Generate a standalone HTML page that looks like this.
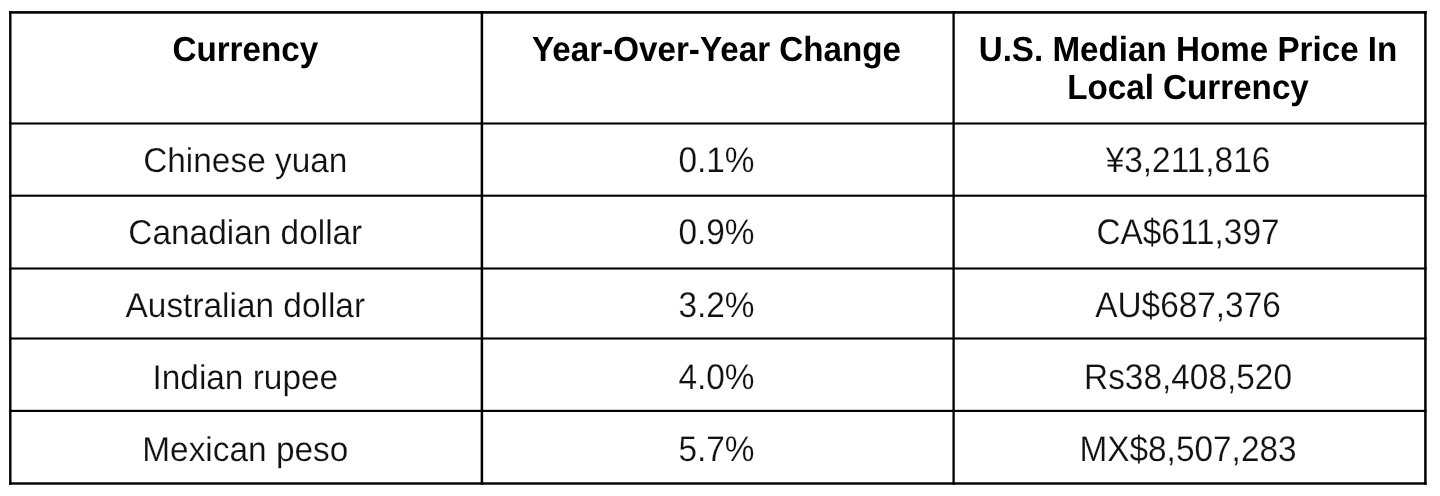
<!DOCTYPE html>
<html><head><meta charset="utf-8"><title>Currency table</title>
<style>
html,body{margin:0;padding:0;background:#fff;width:1440px;height:496px;overflow:hidden}
body{filter:grayscale(1)}
.t{position:absolute;white-space:nowrap;text-align:center;width:460px;font-family:"Liberation Sans",Arial,sans-serif;line-height:38px;text-rendering:geometricPrecision}
.b{font-weight:bold;font-size:33.2px;color:#000}
.r{font-size:33.4px;color:#111;-webkit-text-stroke:0.2px #fff}
.b{transform:scaleY(1.05);transform-origin:0 29px}
.r{transform-origin:0 29px}
.c0{transform:scaleY(1.03)}
.c1{transform:scaleY(1.07)}
.c2{transform:scaleY(1.07)}
svg{position:absolute;left:0;top:0}
</style></head><body>
<svg width="1440" height="496" viewBox="0 0 1440 496">
<rect x="9.10" y="11.10" width="1417.55" height="2.6" fill="#000"/>
<rect x="9.10" y="122.45" width="1417.55" height="2.1" fill="#000"/>
<rect x="9.10" y="194.65" width="1417.55" height="2.1" fill="#000"/>
<rect x="9.10" y="267.45" width="1417.55" height="2.1" fill="#000"/>
<rect x="9.10" y="337.45" width="1417.55" height="2.1" fill="#000"/>
<rect x="9.10" y="409.80" width="1417.55" height="2.2" fill="#000"/>
<rect x="9.10" y="482.30" width="1417.55" height="2.4" fill="#000"/>
<rect x="9.10" y="11.10" width="2.4" height="473.60" fill="#000"/>
<rect x="480.65" y="11.10" width="2.5" height="473.60" fill="#000"/>
<rect x="952.45" y="11.10" width="2.3" height="473.60" fill="#000"/>
<rect x="1424.15" y="11.10" width="2.5" height="473.60" fill="#000"/>
</svg>
<div class="t b" style="left:15.30px;top:32px">Currency</div>
<div class="t b" style="left:486.50px;top:32px">Year-Over-Year Change</div>
<div class="t b" style="left:958.00px;top:32px">U.S. Median Home Price In</div>
<div class="t b" style="left:958.00px;top:70px">Local Currency</div>
<div class="t r c0" style="left:15.30px;top:143px">Chinese yuan</div>
<div class="t r c1" style="left:486.50px;top:143px">0.1%</div>
<div class="t r c2" style="left:958.00px;top:143px">¥3,211,816</div>
<div class="t r c0" style="left:15.30px;top:215px">Canadian dollar</div>
<div class="t r c1" style="left:486.50px;top:215px">0.9%</div>
<div class="t r c2" style="left:958.00px;top:215px">CA$611,397</div>
<div class="t r c0" style="left:15.30px;top:288px">Australian dollar</div>
<div class="t r c1" style="left:486.50px;top:288px">3.2%</div>
<div class="t r c2" style="left:958.00px;top:288px">AU$687,376</div>
<div class="t r c0" style="left:15.30px;top:360px">Indian rupee</div>
<div class="t r c1" style="left:486.50px;top:360px">4.0%</div>
<div class="t r c2" style="left:958.00px;top:360px">Rs38,408,520</div>
<div class="t r c0" style="left:15.30px;top:432px">Mexican peso</div>
<div class="t r c1" style="left:486.50px;top:432px">5.7%</div>
<div class="t r c2" style="left:958.00px;top:432px">MX$8,507,283</div>
</body></html>
